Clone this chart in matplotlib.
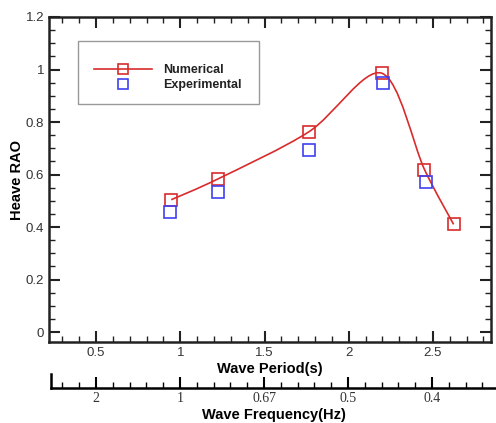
import matplotlib
matplotlib.use('Agg')
import matplotlib.pyplot as plt
from matplotlib.path import Path
from matplotlib.patches import PathPatch, Rectangle
from matplotlib.lines import Line2D
from matplotlib.ticker import MultipleLocator, FormatStrFormatter
import numpy as np

# data
num_T = [0.946, 1.226, 1.764, 2.196, 2.45, 2.623]
num_rao = [0.504, 0.584, 0.763, 0.986, 0.619, 0.41]
exp_T = [0.94, 1.226, 1.764, 2.202, 2.46]
exp_rao = [0.458, 0.533, 0.693, 0.948, 0.57]
freq_pos = [0.5, 1, 1.5, 2, 2.5]
freq_labels = ['2', '1', '0.67', '0.5', '0.4']

red = '#d92b2b'
blue = '#4040f0'

fig = plt.figure(figsize=(4.96, 4.23), dpi=100)
ax = fig.add_axes([49/496, 1-342/423, 442/496, 325/423])

# smooth curve through the numerical points (catmull-rom drawn as bezier path)
P = np.column_stack([num_T, num_rao])
verts = [P[0]]
codes = [Path.MOVETO]
for i in range(len(P)-1):
    p0 = P[i-1] if i > 0 else P[i]
    p3 = P[i+2] if i+2 < len(P) else P[i+1]
    c1 = P[i] + (P[i+1]-p0)/6.5
    c2 = P[i+1] - (p3-P[i])/6.5
    verts += [c1, c2, P[i+1]]
    codes += [Path.CURVE4]*3
ax.add_patch(PathPatch(Path(verts, codes), fc='none', ec=red, lw=1.2))

ax.plot(num_T, num_rao, 's', ms=8.5, mfc='none', mec=red, mew=1.2)
ax.plot(exp_T, exp_rao, 's', ms=8.5, mfc='none', mec=blue, mew=1.2)

ax.set_xlim(0.22, 2.845)
ax.set_ylim(-0.038, 1.2)
ax.xaxis.set_major_locator(MultipleLocator(0.5))
ax.xaxis.set_minor_locator(MultipleLocator(0.1))
ax.yaxis.set_major_locator(MultipleLocator(0.2))
ax.yaxis.set_minor_locator(MultipleLocator(0.05))
ax.yaxis.set_major_formatter(FormatStrFormatter('%g'))
ax.xaxis.set_major_formatter(FormatStrFormatter('%g'))
ax.tick_params(which='both', direction='in', top=True, right=True, width=1.5,
               labelsize=9.5, labelcolor='#333333', colors='#222222')
ax.tick_params(which='major', length=8)
ax.tick_params(which='minor', length=4, width=1)
for s in ax.spines.values():
    s.set_linewidth(1.8)
    s.set_color('#222222')

ax.set_xlabel('Wave Period(s)', fontweight='bold', fontsize=10.5, family='Liberation Sans', labelpad=2)
ax.set_ylabel('Heave RAO', fontweight='bold', fontsize=10.5, family='Liberation Sans', labelpad=1)
for lab in ax.get_xticklabels() + ax.get_yticklabels():
    lab.set_family('Liberation Sans')

# legend frame drawn separately (padding in the original is uneven)
ax.add_patch(Rectangle((29/442, 238/325), 181/442, 63/325, transform=ax.transAxes,
                       fc='white', ec='#999999', lw=1, zorder=4))
handles = [Line2D([], [], color=red, lw=1.2, marker='s', ms=7, mfc='none', mec=red, mew=1.2),
           Line2D([], [], ls='none', marker='s', ms=7, mfc='none', mec=blue, mew=1.2)]
leg = ax.legend(handles, ['Numerical', 'Experimental'], loc='center left',
                bbox_to_anchor=(45/442, 264.5/325), frameon=False,
                borderaxespad=0, borderpad=0, handlelength=4.6, handletextpad=0.9,
                labelspacing=0.26,
                prop={'family': 'Liberation Sans', 'weight': 'bold', 'size': 9})
leg.set_zorder(5)
for t in leg.get_texts():
    t.set_color('#222222')

# frequency axis below
ax2 = fig.add_axes([51/496, 1-388/423, 445/496, 14/423])
ax2.set_xlim(0.22 + 2/168, 0.22 + 447/168)
ax2.set_ylim(0, 1)
ax2.set_facecolor('none')
ax2.spines['top'].set_visible(False)
ax2.spines['right'].set_visible(False)
ax2.spines['bottom'].set_linewidth(1.8)
ax2.spines['left'].set_linewidth(1.8)
ax2.set_yticks([])
ax2.set_xticks(freq_pos)
ax2.set_xticklabels(freq_labels, family='Liberation Serif', fontsize=10, color='#333333')
ax2.xaxis.set_minor_locator(MultipleLocator(0.1))
ax2.tick_params(which='both', direction='in', width=1.5)
ax2.tick_params(which='major', length=8, pad=3)
ax2.tick_params(which='minor', length=4, width=1)
ax2.set_xlabel('Wave Frequency(Hz)', fontweight='bold', fontsize=10.5, family='Liberation Sans', labelpad=2)

fig.savefig('out.png', dpi=100)
